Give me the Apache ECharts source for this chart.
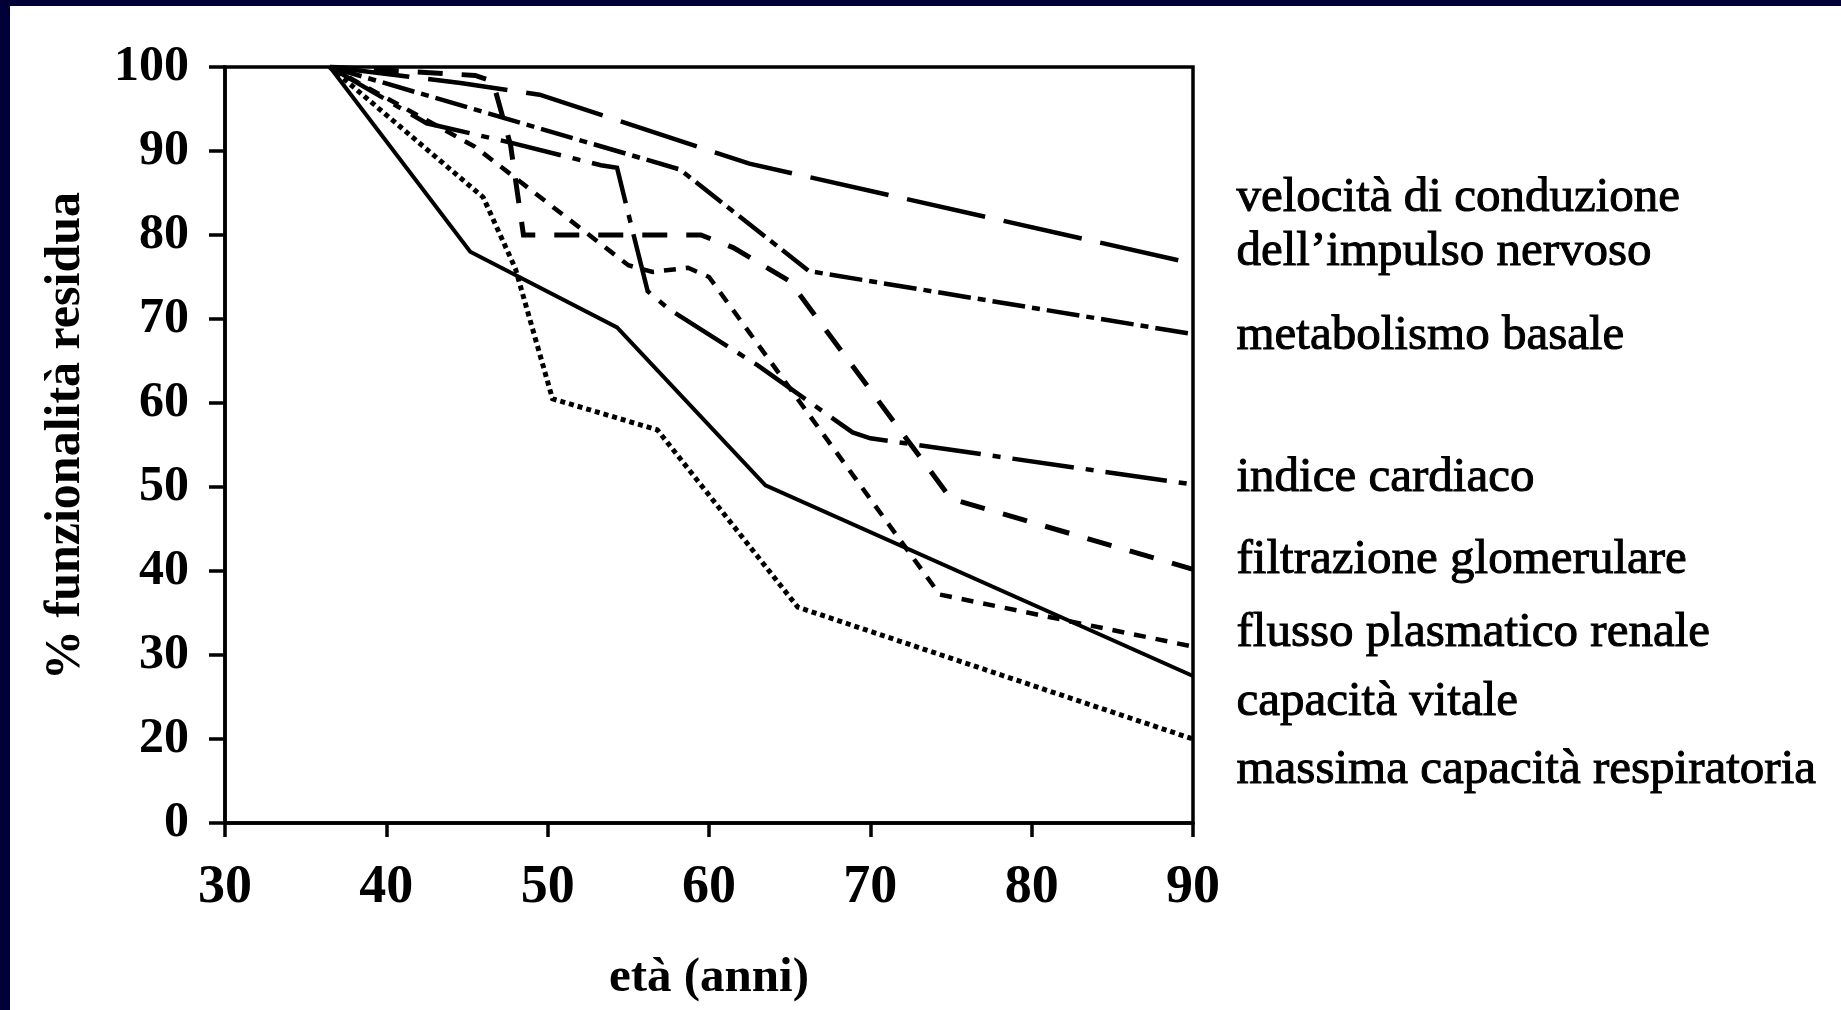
<!DOCTYPE html>
<html>
<head>
<meta charset="utf-8">
<script src="https://cdn.jsdelivr.net/npm/echarts@6/dist/echarts.min.js"></script>
<style>
  html, body { margin: 0; padding: 0; background: #000036; width: 1841px; height: 1010px; overflow: hidden; }
  #chart { position: absolute; left: 10px; top: 6px; width: 1831px; height: 1004px; background: #ffffff; }
</style>
</head>
<body>
<div id="chart"></div>
<script>
// Età (anni) e % di funzionalità residua per ciascun parametro
const velocitaEta = [36.5, 44.6, 49.5, 62.5, 90];
const velocitaVal = [100, 98.1, 96.7, 88.5, 76.6];

const metabolismoEta = [36.5, 58.2, 66.2, 90];
const metabolismoVal = [100, 87.8, 75.7, 68.2];

const cardiacoEta = [36.5, 42.5, 47.7, 53.3, 54.3, 55.3, 56.2, 57.5, 63, 68.9, 70, 90];
const cardiacoVal = [100, 93.3, 91, 88.3, 88, 80.2, 73.3, 71.2, 64.5, 56.5, 55.8, 50.3];

const filtrazioneEta = [36.5, 45.5, 46.6, 47.7, 48.5, 59.5, 61.5, 65, 75, 90];
const filtrazioneVal = [100, 99, 98.3, 90.7, 80, 80, 78.5, 74.5, 48.6, 40.2];

const flussoEta = [36.5, 45.5, 55, 56.5, 58.7, 60, 74.3, 90];
const flussoVal = [100, 90.5, 76.4, 75.6, 76.1, 75, 37.2, 31];

const vitaleEta = [36.5, 45.2, 54.3, 63.5, 90];
const vitaleVal = [100, 78, 69, 50.2, 27.5];

const respiratoriaEta = [36.5, 46, 48, 50.3, 56.8, 65.5, 90];
const respiratoriaVal = [100, 84.5, 76, 60.5, 56.8, 35.7, 20];

// Tacche dell'asse verticale: la prima tacca è etichettata "0"
const yTickValues = [10, 20, 30, 40, 50, 60, 70, 80, 90, 100];
const yTickLabels = ['0', '20', '30', '40', '50', '60', '70', '80', '90', '100'];
const xTickValues = [30, 40, 50, 60, 70, 80, 90];

// Etichette di testo a destra del grafico
const etichette = [
  'velocità di conduzione',
  'dell’impulso nervoso',
  'metabolismo basale',
  'indice cardiaco',
  'filtrazione glomerulare',
  'flusso plasmatico renale',
  'capacità vitale',
  'massima capacità respiratoria'
];
const etichetteBaseline = [211, 265, 349, 491, 573, 646, 715, 783];

const FONT = "'Liberation Serif', 'Times New Roman', serif";
const zip = (xs, ys) => xs.map((x, i) => [x, ys[i]]);

function linea(nome, xs, ys, tipo, w) {
  return {
    name: nome,
    type: 'line',
    data: zip(xs, ys),
    symbol: 'none',
    silent: true,
    lineStyle: { color: '#000', width: w, type: tipo, cap: 'butt', join: 'miter' }
  };
}

const chart = echarts.init(document.getElementById('chart'));
chart.setOption({
  animation: false,
  backgroundColor: '#ffffff',
  grid: {
    left: 215, top: 61, right: 648, bottom: 187,
    show: true, borderColor: '#000', borderWidth: 3.5, backgroundColor: 'transparent'
  },
  xAxis: {
    type: 'value', min: 30, max: 90, interval: 10,
    name: 'età (anni)', nameLocation: 'middle', nameGap: 131,
    nameTextStyle: { fontFamily: FONT, fontWeight: 'bold', fontSize: 49, color: '#000' },
    axisLine: { show: true, lineStyle: { color: '#000', width: 3.5 } },
    axisTick: { show: true, inside: false, length: 14, lineStyle: { color: '#000', width: 3.5 } },
    axisLabel: {
      margin: 38, fontFamily: FONT, fontWeight: 'bold', fontSize: 54, color: '#000',
      formatter: v => xTickValues.includes(v) ? String(v) : ''
    },
    splitLine: { show: false }
  },
  yAxis: {
    type: 'value', min: 10, max: 100, interval: 10,
    name: '% funzionalità residua', nameLocation: 'middle', nameGap: 134,
    nameTextStyle: { fontFamily: FONT, fontWeight: 'bold', fontSize: 50, color: '#000', padding: [0, 0, 0, 18] },
    axisLine: { show: true, lineStyle: { color: '#000', width: 3.5 } },
    axisTick: { show: true, inside: false, length: 16, lineStyle: { color: '#000', width: 3.5 } },
    axisLabel: {
      margin: 36, fontFamily: FONT, fontWeight: 'bold', fontSize: 50, color: '#000',
      formatter: v => {
        const i = yTickValues.indexOf(v);
        return i >= 0 ? yTickLabels[i] : '';
      }
    },
    splitLine: { show: false }
  },
  series: [
    linea('velocità di conduzione dell’impulso nervoso', velocitaEta, velocitaVal, [80, 19], 4.5),
    linea('metabolismo basale', metabolismoEta, metabolismoVal, [33, 7, 8, 7], 4.5),
    linea('indice cardiaco', cardiacoEta, cardiacoVal, [62, 12, 8, 12], 4.5),
    linea('filtrazione glomerulare', filtrazioneEta, filtrazioneVal, [25, 19], 5),
    linea('flusso plasmatico renale', flussoEta, flussoVal, [12, 10], 4.5),
    linea('capacità vitale', vitaleEta, vitaleVal, 'solid', 4),
    linea('massima capacità respiratoria', respiratoriaEta, respiratoriaVal, [5, 4], 5)
  ],
  graphic: etichette.map((t, i) => ({
    type: 'text',
    left: 1226,
    top: etichetteBaseline[i] - 44,
    silent: true,
    style: {
      text: t,
      fontFamily: FONT,
      fontSize: 49,
      fill: '#000',
      stroke: '#000',
      lineWidth: 1
    }
  }))
});
</script>
</body>
</html>
